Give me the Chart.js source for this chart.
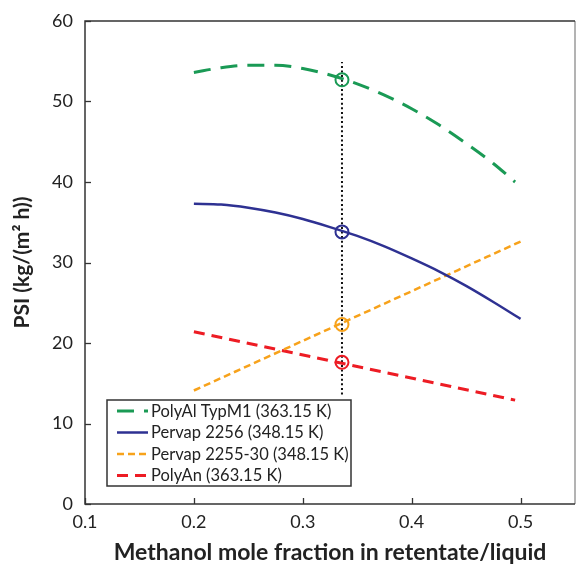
<!DOCTYPE html>
<html>
<head>
<meta charset="utf-8">
<script src="https://cdn.jsdelivr.net/npm/chart.js@4.4.1/dist/chart.umd.min.js"></script>
<style>
  html, body { margin: 0; padding: 0; background: #fff; }
  #wrap { width: 576px; height: 566px; position: relative; }
</style>
</head>
<body>
<div id="wrap"><canvas id="c" width="576" height="566"></canvas></div>
<script>
// ---- data ----
const seriesNames = ["PolyAl TypM1 (363.15 K)", "Pervap 2256 (348.15 K)", "Pervap 2255-30 (348.15 K)", "PolyAn (363.15 K)"];

const xGreen = [0.2, 0.225, 0.25, 0.275, 0.3, 0.325, 0.35, 0.375, 0.4, 0.425, 0.45, 0.475, 0.495];
const yGreen = [53.6, 54.2, 54.5, 54.5, 54.1, 53.3, 52.2, 50.8, 49.1, 47.1, 44.8, 42.3, 40.0];

const xBlue = [0.2, 0.225, 0.25, 0.275, 0.3, 0.325, 0.35, 0.375, 0.4, 0.425, 0.45, 0.475, 0.5];
const yBlue = [37.3, 37.2, 36.8, 36.2, 35.4, 34.4, 33.3, 32.0, 30.5, 28.9, 27.1, 25.1, 23.0];

const xOrange = [0.2, 0.5];
const yOrange = [14.1, 32.6];

const xRed = [0.2, 0.495];
const yRed = [21.4, 12.9];

const markerX = 0.336;
const markerValues = [52.7, 33.8, 22.3, 17.6];

const guideX = [0.336, 0.336];
const guideY = [13.6, 54.9];

const xTicks = [0.1, 0.2, 0.3, 0.4, 0.5];
const yTicks = [0, 10, 20, 30, 40, 50, 60];

// ---- styles ----
const colors = ["#1a9a55", "#2e3192", "#f7a21b", "#ed1c24"];
const widths = [3, 2.5, 2.5, 3];
const dashes = [[17, 10], [], [7, 4], [11, 7]];

function pts(xs, ys) { return xs.map((x, i) => ({x: x, y: ys[i]})); }

const lineData = [pts(xGreen, yGreen), pts(xBlue, yBlue), pts(xOrange, yOrange), pts(xRed, yRed)];

const datasets = [];
lineData.forEach((d, i) => {
  datasets.push({
    label: seriesNames[i],
    data: d,
    borderColor: colors[i],
    backgroundColor: colors[i],
    borderWidth: widths[i],
    borderDash: dashes[i],
    pointRadius: 0,
    fill: false,
    cubicInterpolationMode: 'monotone',
    tension: 0.4,
    order: 2
  });
});
datasets.push({
  label: 'guide',
  data: pts(guideX, guideY),
  borderColor: '#111',
  borderWidth: 2,
  borderDash: [2, 2.6],
  pointRadius: 0,
  fill: false,
  order: 3
});
markerValues.forEach((v, i) => {
  datasets.push({
    label: 'marker' + i,
    data: [{x: markerX, y: v}],
    showLine: false,
    pointRadius: 6.5,
    pointBorderWidth: 2,
    pointBorderColor: colors[i],
    pointBackgroundColor: 'rgba(0,0,0,0)',
    order: 1
  });
});

const FONT = "Lato, 'Open Sans', sans-serif";
const TXT = '#222';

const framePlugin = {
  id: 'frame',
  afterDraw(chart) {
    const {ctx, chartArea: a, scales: {x, y}} = chart;
    ctx.save();
    // border
    ctx.lineWidth = 1.5;
    ctx.strokeStyle = '#9a9a9a';
    ctx.beginPath(); ctx.moveTo(a.right, a.top); ctx.lineTo(a.right, a.bottom); ctx.stroke();
    ctx.strokeStyle = '#333';
    ctx.beginPath();
    ctx.moveTo(a.right, a.top); ctx.lineTo(a.left, a.top); ctx.lineTo(a.left, a.bottom); ctx.lineTo(a.right, a.bottom);
    ctx.stroke();
    // inner ticks
    ctx.lineWidth = 1.3;
    yTicks.forEach(v => {
      const py = Math.round(y.getPixelForValue(v)) + 0.5;
      ctx.beginPath(); ctx.moveTo(a.left, py); ctx.lineTo(a.left + 6, py); ctx.stroke();
    });
    xTicks.forEach(v => {
      const px = Math.round(x.getPixelForValue(v)) + 0.5;
      ctx.beginPath(); ctx.moveTo(px, a.bottom); ctx.lineTo(px, a.bottom - 6); ctx.stroke();
    });
    // legend
    const lx = 107, ly = 400, lw = 244, lh = 86;
    ctx.fillStyle = '#fff';
    ctx.fillRect(lx, ly, lw, lh);
    ctx.lineWidth = 1.5;
    ctx.strokeStyle = '#333';
    ctx.strokeRect(lx, ly, lw, lh);
    ctx.font = "16.5px " + FONT;
    ctx.textBaseline = 'middle';
    ctx.textAlign = 'left';
    seriesNames.forEach((name, i) => {
      const cy = ly + 11 + i * 21.5;
      ctx.strokeStyle = colors[i];
      ctx.lineWidth = widths[i];
      ctx.setLineDash(dashes[i]);
      ctx.beginPath(); ctx.moveTo(lx + 10, cy); ctx.lineTo(lx + 41, cy); ctx.stroke();
      ctx.setLineDash([]);
      ctx.fillStyle = TXT;
      ctx.fillText(name, lx + 44, cy + 0.5);
    });
    ctx.restore();
  }
};

new Chart(document.getElementById('c'), {
  type: 'line',
  data: { datasets: datasets },
  options: {
    responsive: false,
    animation: false,
    devicePixelRatio: 1,
    layout: { autoPadding: false, padding: { top: 21, right: 1, left: 0, bottom: 0 } },
    plugins: { legend: { display: false }, tooltip: { enabled: false } },
    scales: {
      x: {
        type: 'linear',
        min: 0.1, max: 0.55,
        afterFit(s) { s.height = 62; s.paddingLeft = 0; s.paddingRight = 0; },
        afterBuildTicks(s) { s.ticks = xTicks.map(v => ({value: v})); },
        grid: { display: false, drawTicks: false },
        border: { display: false },
        ticks: {
          padding: 7,
          color: TXT,
          font: { family: FONT, size: 18 },
          maxRotation: 0,
          callback: v => v.toFixed(1)
        },
        title: {
          display: true,
          text: 'Methanol mole fraction in retentate/liquid',
          color: TXT,
          font: { family: FONT, size: 23, weight: 'bold' },
          padding: { top: 0, bottom: 0 }
        }
      },
      y: {
        type: 'linear',
        min: 0, max: 60,
        afterFit(s) { s.width = 85; s.paddingTop = 0; s.paddingBottom = 0; },
        afterBuildTicks(s) { s.ticks = yTicks.map(v => ({value: v})); },
        grid: { display: false, drawTicks: false },
        border: { display: false },
        ticks: {
          padding: 12,
          color: TXT,
          font: { family: FONT, size: 18 },
          callback: v => String(v)
        },
        title: {
          display: true,
          text: 'PSI (kg/(m\u00B2 h))',
          color: TXT,
          font: { family: FONT, size: 21, weight: 'bold' },
          padding: { top: 10, bottom: 0 }
        }
      }
    }
  },
  plugins: [framePlugin]
});
</script>
</body>
</html>
